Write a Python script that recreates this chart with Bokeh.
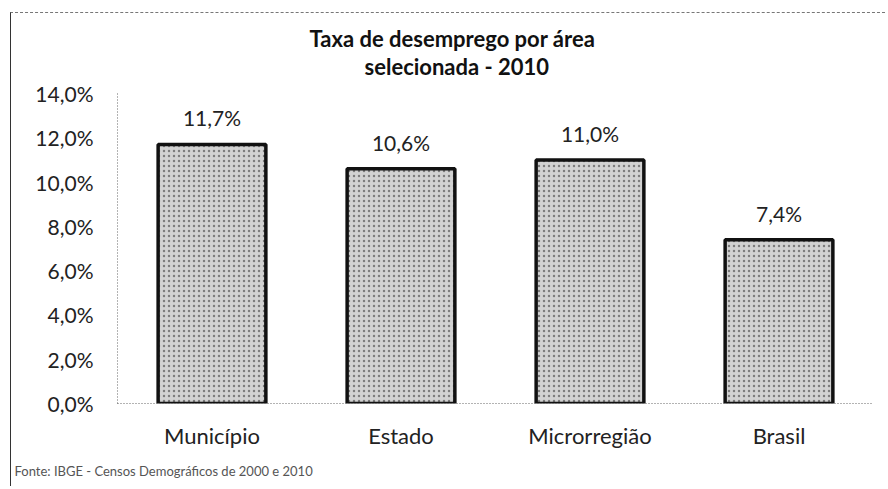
from bokeh.plotting import figure
from bokeh.models import FixedTicker, Title, ColumnDataSource
from bokeh.core.properties import value
from bokeh.embed import file_html
from bokeh.resources import INLINE

categories = ["Município", "Estado", "Microrregião", "Brasil"]
rates = [11.7, 10.6, 11.0, 7.4]
rate_labels = ["11,7%", "10,6%", "11,0%", "7,4%"]
y_ticks = [0, 2, 4, 6, 8, 10, 12, 14]
y_tick_labels = ["0,0%", "2,0%", "4,0%", "6,0%", "8,0%", "10,0%", "12,0%", "14,0%"]
title_lines = ["Taxa de desemprego por área", "selecionada - 2010"]
source_note = "Fonte: IBGE - Censos Demográficos de 2000 e 2010"

FONT = "Lato"

src = ColumnDataSource(dict(cat=categories, rate=rates, lbl=rate_labels))

p = figure(x_range=categories, y_range=(0, 14), width=875, height=474,
           output_backend="svg", toolbar_location=None, title_location=None,
           min_border_left=106, min_border_right=13, min_border_top=80,
           min_border_bottom=83, outline_line_color=None,
           background_fill_color="white", border_fill_color="white")
p.styles = {"margin-left": "10px", "margin-top": "12px",
            "border-left": "1px solid #333", "border-top": "1px dashed #777"}

p.vbar(x="cat", top="rate", width=0.57, source=src, fill_color="#d2d2d2",
       hatch_pattern="dot", hatch_color="#666666", hatch_scale=5, hatch_weight=1,
       hatch_alpha=0.8, line_color="#111111", line_width=3.5)

p.text(x="cat", y="rate", text="lbl", source=src, text_align="center",
       text_baseline="bottom", y_offset=-14, text_font=value(FONT),
       text_font_size="21px", text_color="#222222")

p.xgrid.visible = False
p.ygrid.visible = False

p.yaxis.ticker = FixedTicker(ticks=y_ticks)
p.yaxis.major_label_overrides = dict(zip(y_ticks, y_tick_labels))
for ax in (p.xaxis[0], p.yaxis[0]):
    ax.axis_line_color = "#666666"
    ax.axis_line_dash = "1 2"
    ax.axis_line_width = 1
    ax.major_tick_line_color = None
    ax.minor_tick_line_color = None
    ax.major_tick_out = 0
    ax.major_tick_in = 0
    ax.major_label_text_font = FONT
    ax.major_label_text_color = "#222222"
p.yaxis.major_label_text_font_size = "21px"
p.yaxis.major_label_standoff = 24
p.xaxis.major_label_text_font_size = "22px"
p.xaxis.major_label_standoff = 18

# title lines: nearest-to-plot first
p.add_layout(Title(text=title_lines[1], align="left", offset=247, text_font=FONT,
                   text_font_size="22px", text_font_style="bold",
                   text_color="#111111", standoff=28), "above")
p.add_layout(Title(text=title_lines[0], align="left", offset=192, text_font=FONT,
                   text_font_size="22px", text_font_style="bold",
                   text_color="#111111", standoff=-30), "above")
p.add_layout(Title(text=source_note, align="left", offset=-103, text_font=FONT,
                   text_font_size="13px", text_font_style="normal",
                   text_color="#555555", standoff=18), "below")

open("out.html", "w").write(file_html(p, INLINE))
